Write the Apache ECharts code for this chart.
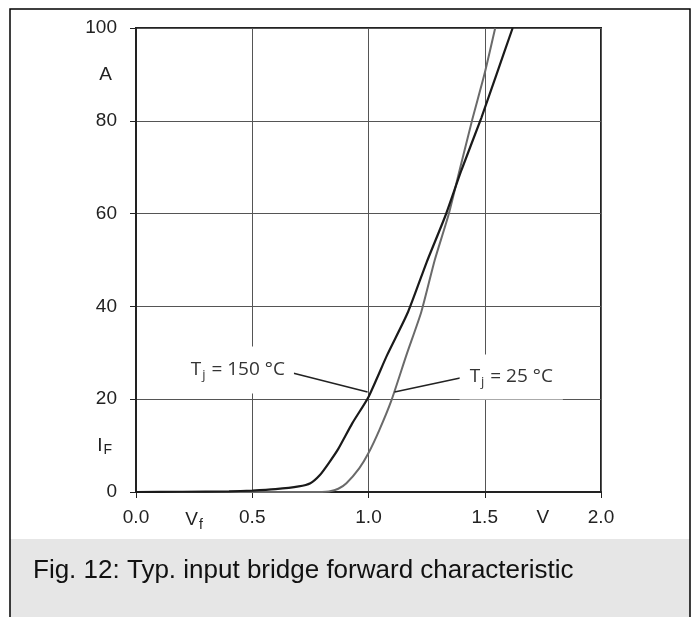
<!DOCTYPE html>
<html>
<head>
<meta charset="utf-8">
<script src="https://cdn.jsdelivr.net/npm/echarts@6/dist/echarts.min.js"></script>
<style>
html,body{margin:0;padding:0;background:#fff;}
#c{width:695px;height:617px;}
</style>
</head>
<body>
<div id="c"></div>
<script>
// ---- data ----
var v150 = [0, 0.2, 0.4, 0.5, 0.6, 0.7, 0.75, 0.79, 0.83, 0.87, 0.93, 1.0, 1.08, 1.17, 1.25, 1.332, 1.40, 1.485, 1.55, 1.62];
var i150 = [0, 0.05, 0.15, 0.3, 0.6, 1.2, 1.9, 3.6, 6.3, 9.3, 14.8, 20.5, 29.5, 38.8, 49.5, 59.7, 69.4, 80.6, 89.9, 100];
var v25 = [0, 0.6, 0.8, 0.83, 0.87, 0.905, 0.96, 1.0, 1.047, 1.099, 1.163, 1.227, 1.285, 1.344, 1.392, 1.446, 1.498, 1.545];
var i25 = [0, 0, 0, 0.1, 0.7, 1.9, 5.1, 8.4, 13.4, 19.8, 29.5, 38.8, 50, 59.7, 69.4, 80.2, 89.9, 100];

var xTickLabels = ['0.0', 'V_f', '0.5', '', '1.0', '', '1.5', 'V', '2.0'];
var yTickLabels = ['0', 'I_F', '20', '', '40', '', '60', '', '80', 'A', '100'];
var xMajorTicks = [0, 0.5, 1.0, 1.5, 2.0];
var yMajorTicks = [0, 20, 40, 60, 80, 100];

var caption = 'Fig. 12: Typ. input bridge forward characteristic';
var label150 = {text: '150 °C', at: [0.438, 26.3], lead: [[0.678, 25.6], [0.996, 21.55]]};
var label25 = {text: '25 °C', at: [1.614, 24.8], lead: [[1.112, 21.55], [1.399, 24.6]]};

function pairs(xs, ys) { return xs.map(function (x, k) { return [x, ys[k]]; }); }

function fmtLabel(lab) {
  if (!lab) return '';
  if (lab.indexOf('_') >= 0) {
    var p = lab.split('_');
    return '{u|' + p[0] + '}{s|' + p[1] + '}';
  }
  if (/^[A-Za-z]+$/.test(lab)) return '{u|' + lab + '}';
  return lab;
}

var axisFont = '"Liberation Sans", Arial, sans-serif';
var richAxis = {
  u: {fontSize: 19, fontFamily: axisFont, color: '#222'},
  s: {fontSize: 14, fontFamily: axisFont, color: '#222', padding: [10, 0, 0, 1]}
};
var annFont = '"Open Sans", sans-serif';
var richAnn = {
  t: {fontSize: 19, fontFamily: annFont, color: '#333'},
  s: {fontSize: 13, fontFamily: annFont, color: '#333', padding: [10, 1, 0, 1]}
};

function annLabel(obj, pad) {
  return {
    name: obj.text,
    coord: obj.at,
    symbol: 'rect',
    symbolSize: 1,
    itemStyle: {color: 'rgba(0,0,0,0)'},
    label: {
      show: true,
      position: 'inside',
      formatter: '{t|T}{s|j}{t| = ' + obj.text + '}',
      rich: richAnn,
      backgroundColor: '#fff',
      padding: pad
    }
  };
}

var chart = echarts.init(document.getElementById('c'), null, {renderer: 'canvas'});
chart.setOption({
  animation: false,
  backgroundColor: '#fff',
  title: {
    text: caption,
    left: 28,
    top: 553,
    textStyle: {fontFamily: axisFont, fontSize: 26, fontWeight: 'normal', color: '#111'}
  },
  graphic: [
    {type: 'rect', z: -10, shape: {x: 10, y: 539, width: 680, height: 90}, style: {fill: '#e6e6e6'}},
    {type: 'rect', z: -9, shape: {x: 10, y: 9, width: 680, height: 640}, style: {fill: 'none', stroke: '#000', lineWidth: 1.5}}
  ],
  grid: {left: 136, top: 28, width: 465, height: 464, show: true, borderColor: '#222', borderWidth: 2, backgroundColor: 'transparent', containLabel: false},
  xAxis: {
    type: 'value', min: 0, max: 2, interval: 0.25,
    axisLine: {show: true, onZero: false, lineStyle: {color: '#222', width: 2}},
    axisTick: {show: true, length: 6, customValues: xMajorTicks, lineStyle: {color: '#222', width: 1}},
    splitLine: {show: true, lineStyle: {color: '#555', width: 1}},
    axisLabel: {
      show: true, margin: 16, showMinLabel: true, showMaxLabel: true,
      fontSize: 19, fontFamily: axisFont, color: '#222', rich: richAxis,
      formatter: function (v) { return fmtLabel(xTickLabels[Math.round(v / 0.25)]); }
    }
  },
  yAxis: {
    type: 'value', min: 0, max: 100, interval: 10,
    axisLine: {show: true, onZero: false, lineStyle: {color: '#222', width: 2}},
    axisTick: {show: true, length: 6, customValues: yMajorTicks, lineStyle: {color: '#222', width: 1}},
    splitLine: {show: true, lineStyle: {color: '#555', width: 1}},
    axisLabel: {
      show: true, margin: 19, showMinLabel: true, showMaxLabel: true,
      fontSize: 19, fontFamily: axisFont, color: '#222',
      rich: {
        u: {fontSize: 19, fontFamily: axisFont, color: '#222', padding: [0, 5, 0, 0]},
        i: {fontSize: 19, fontFamily: axisFont, color: '#222'},
        s: {fontSize: 14, fontFamily: axisFont, color: '#222', padding: [10, 5, 0, 1]}
      },
      formatter: function (v) {
        var lab = yTickLabels[Math.round(v / 10)];
        if (!lab) return '';
        if (lab.indexOf('_') >= 0) {
          var p = lab.split('_');
          return '{i|' + p[0] + '}{s|' + p[1] + '}';
        }
        return fmtLabel(lab);
      }
    }
  },
  series: [
    {
      name: 'Tj = 150 °C', type: 'line', data: pairs(v150, i150),
      showSymbol: false, smooth: 0.2,
      lineStyle: {color: '#1a1a1a', width: 2.2}, z: 3,
      markLine: {
        silent: true, symbol: 'none', animation: false,
        lineStyle: {color: '#222', width: 1.5, type: 'solid'},
        label: {show: false},
        data: [[{coord: label150.lead[0]}, {coord: label150.lead[1]}]]
      },
      markPoint: {silent: true, animation: false, data: [annLabel(label150, [12, 9, 12, 9])]}
    },
    {
      name: 'Tj = 25 °C', type: 'line', data: pairs(v25, i25),
      showSymbol: false, smooth: 0.2,
      lineStyle: {color: '#6a6a6a', width: 2}, z: 2,
      markLine: {
        silent: true, symbol: 'none', animation: false,
        lineStyle: {color: '#222', width: 1.5, type: 'solid'},
        label: {show: false},
        data: [[{coord: label25.lead[0]}, {coord: label25.lead[1]}]]
      },
      markPoint: {silent: true, animation: false, data: [annLabel(label25, [11, 10, 11, 10])]}
    }
  ]
});
</script>
</body>
</html>
